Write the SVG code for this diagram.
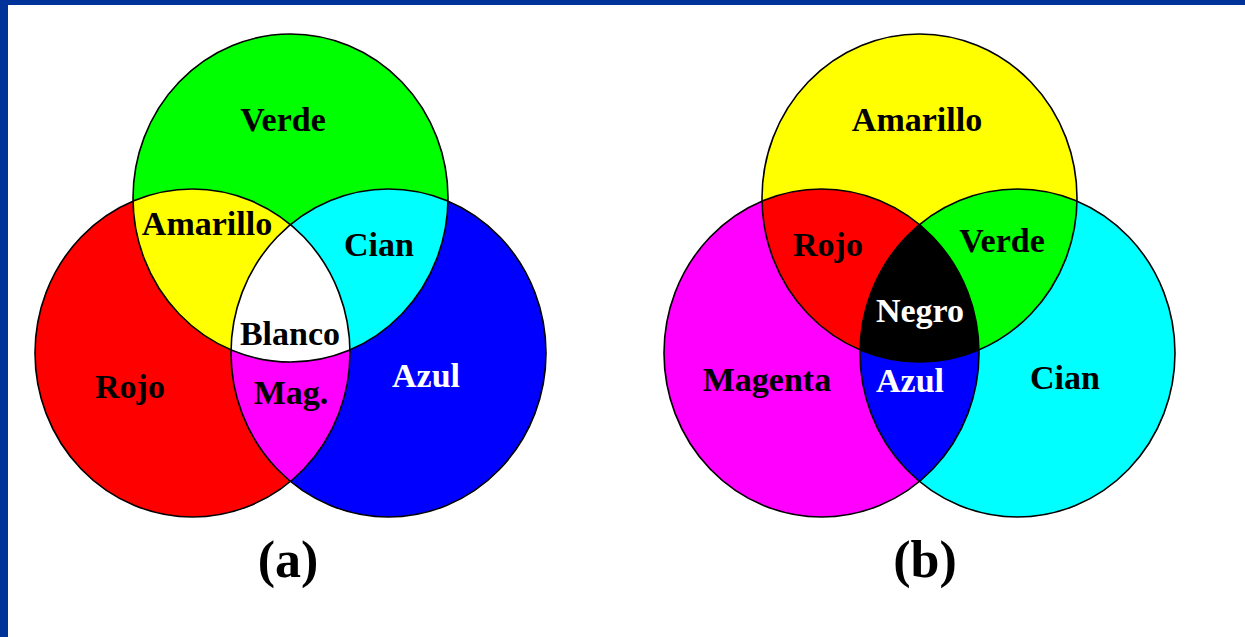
<svg xmlns="http://www.w3.org/2000/svg" xmlns:xlink="http://www.w3.org/1999/xlink" width="1245" height="637" viewBox="0 0 1245 637">
  <style>
    .lbl { font-family: "Liberation Serif", "Times New Roman", serif; font-weight: bold; font-size: 34px; text-anchor: middle; fill: #000; }
    .inv { fill: #fff; }
    .cap { font-family: "Liberation Serif", "Times New Roman", serif; font-weight: bold; font-size: 52px; text-anchor: middle; fill: #000; }
    .ring { fill: none; stroke: #000; stroke-width: 1.6; }
  </style>
  <defs>
    <!-- additive set (a) -->
    <ellipse id="aT" cx="290.5" cy="198" rx="157.5" ry="164"/>
    <ellipse id="aL" cx="192.5" cy="353" rx="157.5" ry="164"/>
    <ellipse id="aR" cx="388.5" cy="353" rx="157.5" ry="164"/>
    <!-- subtractive set (b) -->
    <ellipse id="bT" cx="919.5" cy="198" rx="157.5" ry="164"/>
    <ellipse id="bL" cx="821.5" cy="353" rx="157.5" ry="164"/>
    <ellipse id="bR" cx="1017.5" cy="353" rx="157.5" ry="164"/>
    <clipPath id="cAT"><use xlink:href="#aT"/></clipPath>
    <clipPath id="cAR"><use xlink:href="#aR"/></clipPath>
    <clipPath id="cBT"><use xlink:href="#bT"/></clipPath>
    <clipPath id="cBR"><use xlink:href="#bR"/></clipPath>
  </defs>

  <!-- frame -->
  <rect x="0" y="0" width="1245" height="637" fill="#003399"/>
  <rect x="8" y="5" width="1237" height="632" fill="#fff"/>

  <!-- (a) RGB -->
  <g id="venn-a">
    <use xlink:href="#aL" fill="#ff0000"/>
    <use xlink:href="#aR" fill="#0000ff"/>
    <use xlink:href="#aT" fill="#00ff00"/>
    <use xlink:href="#aL" fill="#ffff00" clip-path="url(#cAT)"/>
    <use xlink:href="#aR" fill="#00ffff" clip-path="url(#cAT)"/>
    <use xlink:href="#aL" fill="#ff00ff" clip-path="url(#cAR)"/>
    <g clip-path="url(#cAT)"><use xlink:href="#aL" fill="#ffffff" clip-path="url(#cAR)"/></g>
    <use xlink:href="#aT" class="ring"/>
    <use xlink:href="#aL" class="ring"/>
    <use xlink:href="#aR" class="ring"/>
  </g>
  <g id="labels-a">
    <text class="lbl" x="283" y="131">Verde</text>
    <text class="lbl" x="207" y="235">Amarillo</text>
    <text class="lbl" x="379" y="256">Cian</text>
    <text class="lbl" x="290" y="345">Blanco</text>
    <text class="lbl" x="130" y="398">Rojo</text>
    <text class="lbl" x="291" y="404">Mag.</text>
    <text class="lbl inv" x="426" y="387">Azul</text>
    <text class="cap" x="288" y="577">(a)</text>
  </g>

  <!-- (b) CMY -->
  <g id="venn-b">
    <use xlink:href="#bL" fill="#ff00ff"/>
    <use xlink:href="#bR" fill="#00ffff"/>
    <use xlink:href="#bT" fill="#ffff00"/>
    <use xlink:href="#bL" fill="#ff0000" clip-path="url(#cBT)"/>
    <use xlink:href="#bR" fill="#00ff00" clip-path="url(#cBT)"/>
    <use xlink:href="#bL" fill="#0000ff" clip-path="url(#cBR)"/>
    <g clip-path="url(#cBT)"><use xlink:href="#bL" fill="#000000" clip-path="url(#cBR)"/></g>
    <use xlink:href="#bT" class="ring"/>
    <use xlink:href="#bL" class="ring"/>
    <use xlink:href="#bR" class="ring"/>
  </g>
  <g id="labels-b">
    <text class="lbl" x="917" y="131">Amarillo</text>
    <text class="lbl" x="828" y="256">Rojo</text>
    <text class="lbl" x="1002" y="252">Verde</text>
    <text class="lbl inv" x="920" y="322">Negro</text>
    <text class="lbl" x="767" y="391">Magenta</text>
    <text class="lbl inv" x="910" y="392">Azul</text>
    <text class="lbl" x="1065" y="389">Cian</text>
    <text class="cap" x="925" y="577">(b)</text>
  </g>
</svg>
